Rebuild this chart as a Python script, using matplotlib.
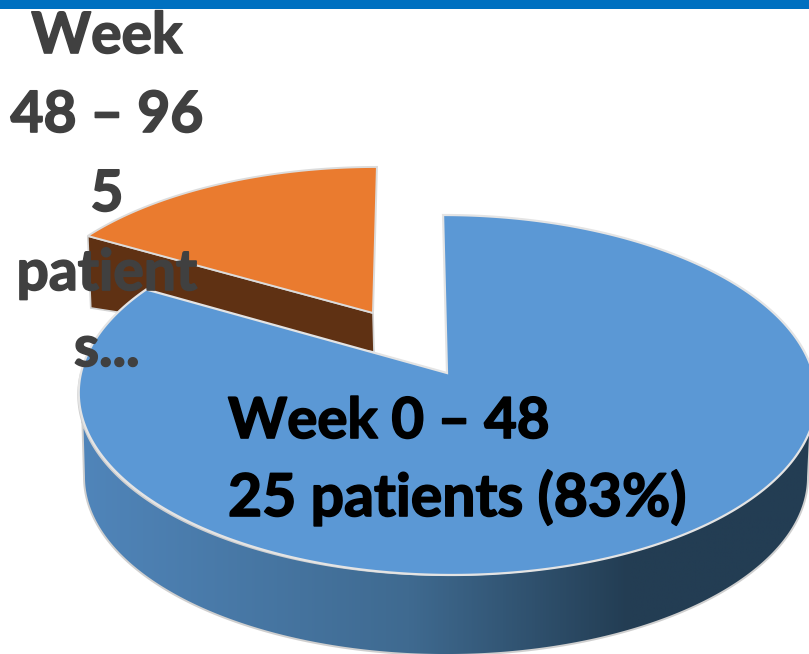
#!/usr/bin/env python3
"""3D style pie chart of patients per study period."""

import matplotlib
matplotlib.use("Agg")
import matplotlib.patheffects as pe
import matplotlib.pyplot as plt
import numpy as np
from matplotlib.colors import LinearSegmentedColormap
from matplotlib.patches import Polygon, Rectangle

periods = ["Week 0 – 48", "Week 48 – 96"]
patients = [25, 5]
blue_label = ["Week 0 – 48", "25 patients (83%)"]
orange_label = ["Week", "48 – 96", "5", "patient", "s..."]

plt.rcParams["font.family"] = ["Lato", "DejaVu Sans"]


def project(theta, apex, a, b, k, shear=0.0):
    """Clockwise angle from 12 o'clock (deg) to picture pixels, with perspective."""
    t = np.radians(theta)
    u, v = np.sin(t), np.cos(t)
    up = a * v / (1 + k * v)
    x = b * u / (1 + k * v) + shear * up
    return apex[0] + x, apex[1] - up


def wedge(start, end, apex, a, b, k, shear=0.0):
    th = np.linspace(start, end, 300)
    x, y = project(th, apex, a, b, k, shear)
    return np.column_stack([np.r_[apex[0], x], np.r_[apex[1], y]])


def main():
    fig = plt.figure(figsize=(8.09, 6.54), dpi=100)
    ax = fig.add_axes([0, 0, 1, 1])
    ax.set_xlim(0, 809)
    ax.set_ylim(654, 0)
    ax.axis("off")

    ax.add_patch(Rectangle((0, 0), 809, 9, color="#0070c0", lw=0, zorder=1))

    # slice angles come from the patient counts, first slice starts at 12 o'clock
    sweep = 360 * patients[0] / sum(patients)

    # orange slice, pulled out up and left
    o_apex = (373, 313)
    o_top = wedge(sweep, 360, o_apex, 163, 351, 0.116, 0.027)
    corner = o_top[1]
    side = np.array([corner, o_apex, (o_apex[0] + 1, o_apex[1] + 39),
                     (corner[0] + 3, corner[1] + 72)])
    ax.add_patch(Polygon(side, fc="#5f3113", ec="#d4d4d4", lw=1.2, zorder=2))
    ax.add_patch(Polygon(o_top, fc="#ea7b2f", ec="#dcdcdc", lw=1.4, zorder=3))

    # blue slice: rim between top ellipse and bottom ellipse
    b_apex = (447, 373)
    th = np.linspace(90, 270, 300)
    x1, y1 = project(th, b_apex, 177.3, 366, 0.1222)
    x2, y2 = 446 + 362 * np.sin(np.radians(th)), 477 - 178 * np.cos(np.radians(th))
    rim = np.column_stack([np.r_[x1, x2[::-1]], np.r_[y1, y2[::-1]]])
    rim_patch = Polygon(rim, fc="none", ec="#cfcfcf", lw=1.4, zorder=5)
    ax.add_patch(rim_patch)
    cmap = LinearSegmentedColormap.from_list(
        "rim", [(0, "#5085ba"), (0.45, "#3f6a90"), (0.75, "#233d53"), (1, "#233d53")])
    grad = np.linspace(0, 1, 512)[None, :]
    im = ax.imshow(grad, cmap=cmap, extent=(80, 812, 660, 380), aspect="auto", zorder=4)
    im.set_clip_path(rim_patch)
    ax.set_xlim(0, 809)
    ax.set_ylim(654, 0)

    b_top = wedge(0, sweep, b_apex, 177.3, 366, 0.1222, -0.025)
    ax.add_patch(Polygon(b_top, fc="#5b98d5", ec="#e4e4e4", lw=1.6, zorder=6))

    # labels, one text per line so the baselines stay where they are in the chart
    heavy = [pe.withStroke(linewidth=1.2, foreground="#404040")]
    for line, y in zip(orange_label, [53, 132, 211, 290, 366]):
        ax.text(107, y, line, ha="center", va="baseline", fontsize=41,
                fontweight="bold", color="#404040", zorder=7, path_effects=heavy)
    heavy = [pe.withStroke(linewidth=1.2, foreground="#000000")]
    for line, y, size in zip(blue_label, [438, 516], [40.6, 42.4]):
        ax.text(228, y, line, ha="left", va="baseline", fontsize=size,
                fontweight="bold", color="#000000", zorder=7, path_effects=heavy)

    fig.savefig("out.png", dpi=100)
    plt.close(fig)


if __name__ == "__main__":
    main()
